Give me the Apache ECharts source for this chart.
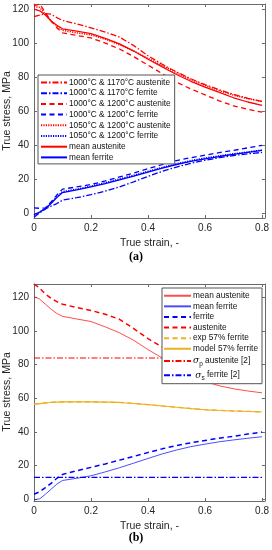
<!DOCTYPE html>
<html><head><meta charset="utf-8">
<script src="https://cdn.jsdelivr.net/npm/echarts@6/dist/echarts.min.js"></script>
<style>html,body{margin:0;padding:0;background:#fff;width:272px;height:550px;overflow:hidden}
#a{position:absolute;left:0;top:0;width:272px;height:270px}
#b{position:absolute;left:0;top:270px;width:272px;height:280px}</style>
</head><body>
<div id="a"></div><div id="b"></div>
<script>
// ---------- data ----------
const strain = [0,0.02,0.04,0.06,0.08,0.1,0.15,0.2,0.25,0.3,0.35,0.4,0.45,0.5,0.55,0.6,0.65,0.7,0.75,0.8];
const yTicks = [0,20,40,60,80,100,120];
const xTicks = [0,0.2,0.4,0.6,0.8];

// panel (a)
const a_aus_1000_1170 = [115.5,116.5,117.3,117,115,113.3,111.3,109,106.5,103.5,98.5,92.5,87.5,83,79,75.5,72.5,69.8,67.5,65.7];
const a_fer_1000_1170 = [-2.5,0,2.3,4,5.5,7.5,9,10.7,12.8,15.3,18.3,21.5,24.5,27,29.2,31,32.5,33.8,34.8,35.6];
const a_aus_1000_1200 = [122,123,118,113,109,106,104.5,103,100,96.5,92,87,82,77,73,69.5,66,63,61,59.3];
const a_fer_1000_1200 = [3,2.7,3,6.5,10.5,14,15.3,16.7,18.8,21.2,23.5,26,28.5,30.8,32.5,34,35.5,36.8,38.3,39.8];
const a_aus_1050_1200 = [121.5,121,117,113,110,107.5,106,104.8,102.3,99,95.3,91,86.8,82.5,78.5,75,72,69.3,67.3,65.5];
const a_fer_1050_1200 = [-1.5,0.5,2.5,6,9.5,12.5,14,15.8,17.8,20,22.2,24.5,26.8,29,30.8,32.3,33.6,34.8,35.9,37];
const a_mean_aus = [120,119,116.5,113,110.5,108.4,107,105.5,102.8,99.5,95.3,90.5,86,81.5,77.5,74,71,67.8,65.3,63.3];
const a_mean_fer = [-1,0.5,2.5,5.5,9,12,13.5,15.3,17.3,19.5,21.7,24,26.3,28.5,30.3,31.8,33.2,34.4,35.6,36.8];

// panel (b)
const b_mean_aus = [120.5,119,116,113,110.5,108.8,107.2,105.7,102.5,99,94.5,89,84,79,74.5,70,67.5,65.7,64.4,63.3];
const b_mean_fer = [-0.3,0.3,3,6,9,11.2,12.5,14,16.3,18.8,21.5,24.3,27,29.3,31.3,32.8,34.2,35.3,36.3,37.2];
const b_fer = [3,4.5,7,9.5,12.5,14.8,17,19,21,23.3,25.5,27.8,30,32,33.6,35,36.3,37.5,38.8,40];
const b_aus = [128,125.5,122,119.5,117.5,116,114,112.3,110,107,101.5,95.5,90.5,85,80.5,77,74.5,72.5,70.5,69];
const b_exp57 = [56.6,57,57.4,57.7,57.9,58,58,57.9,57.8,57.6,57,56.3,55.5,54.8,54,53.3,52.9,52.6,52.3,52];
const b_model57 = [56.4,56.9,57.3,57.6,57.8,57.9,58,57.9,57.8,57.6,57,56.3,55.5,54.7,53.9,53.2,52.8,52.5,52.2,51.9];
const sigmaP_aus = 84;
const sigmaS_fer = 13;
const sigmaRange = [0, 0.8];

const namesA = ['1000°C & 1170°C austenite','1000°C & 1170°C ferrite','1000°C & 1200°C austenite','1000°C & 1200°C ferrite','1050°C & 1200°C austenite','1050°C & 1200°C ferrite','mean austenite','mean ferrite'];
const namesB = ['mean austenite','mean ferrite','ferrite','austenite','exp 57% ferrite','model 57% ferrite','σp austenite [2]','σs ferrite [2]'];
const yTitle = 'True stress, MPa';
const xTitle = 'True strain, -';

// ---------- helpers ----------
const RED='#ff0000', BLUE='#0000ff', YEL='#EDB120';
const DASH=[5,3.5], DASHDOT=[6,2,1.5,2], DOT=[1.2,1.2];
const FONT='"Liberation Sans", Arial, sans-serif';
const LFS = 8.3;
const pairs = arr => strain.map((x,i)=>[x,arr[i]]);
function line(name, data, color, type, width, opacity){
  return {name, type:'line', data, symbol:'none', showSymbol:false, silent:true, animation:false,
    lineStyle:{color, type, width, opacity: opacity==null?1:opacity}, itemStyle:{color}};
}
function axes(yMin, yMax){
  const ax = {color:'#6a6a6a', width:1};
  return {
    xAxis:[
      {type:'value', min:0, max:0.81, position:'bottom', name:xTitle, nameLocation:'middle', nameGap:19,
       nameTextStyle:{fontSize:10.5, color:'#262626', fontFamily:FONT},
       axisLine:{show:true, onZero:false, lineStyle:ax},
       axisTick:{show:true, inside:true, length:3, lineStyle:ax, customValues:xTicks},
       axisLabel:{fontSize:10, color:'#262626', fontFamily:FONT, margin:5, customValues:xTicks},
       splitLine:{show:false}},
      {type:'value', min:0, max:0.81, position:'top',
       axisLine:{show:true, onZero:false, lineStyle:ax},
       axisTick:{show:true, inside:true, length:3, lineStyle:ax, customValues:xTicks},
       axisLabel:{show:false}, splitLine:{show:false}}
    ],
    yAxis:[
      {type:'value', min:yMin, max:yMax, position:'left',
       axisLine:{show:true, onZero:false, lineStyle:ax},
       axisTick:{show:true, inside:true, length:3, lineStyle:ax, customValues:yTicks},
       axisLabel:{fontSize:10, color:'#262626', fontFamily:FONT, margin:5, customValues:yTicks},
       splitLine:{show:false}},
      {type:'value', min:yMin, max:yMax, position:'right',
       axisLine:{show:true, onZero:false, lineStyle:ax},
       axisTick:{show:true, inside:true, length:3, lineStyle:ax, customValues:yTicks},
       axisLabel:{show:false}, splitLine:{show:false}}
    ]
  };
}
function yTitleGraphic(cy){
  return {type:'text', x:7, y:cy, rotation:Math.PI/2,
    style:{text:yTitle, align:'center', verticalAlign:'middle', font:'10.5px "Liberation Sans", Arial, sans-serif', fill:'#262626'}};
}
const legendCommon = {orient:'vertical', itemHeight:8, backgroundColor:'#fff', borderColor:'#555', borderWidth:1,
  selectedMode:false, itemStyle:{opacity:0, borderWidth:0}};

// ---------- panel (a) ----------
const chartA = echarts.init(document.getElementById('a'), null, {renderer:'canvas'});
const optA = Object.assign({
  animation:false,
  grid:{left:34, top:4, width:231, height:214},
  legend:Object.assign({}, legendCommon, {left:38, top:75, padding:[3,4,2,2], itemWidth:26, itemGap:1.7,
    textStyle:{fontSize:LFS, lineHeight:9, color:'#111', fontFamily:FONT, padding:[0,0,0,-3]}, data:namesA}),
  graphic:[yTitleGraphic(111),
    {type:'text', style:{x:136, y:257, text:'(a)', align:'center', verticalAlign:'middle',
    font:'bold 12px "Liberation Serif", serif', fill:'#000'}}],
  series:[
    line(namesA[0], pairs(a_aus_1000_1170), RED, DASHDOT, 1.3),
    line(namesA[1], pairs(a_fer_1000_1170), BLUE, DASHDOT, 1.3),
    line(namesA[2], pairs(a_aus_1000_1200), RED, DASH, 1.3),
    line(namesA[3], pairs(a_fer_1000_1200), BLUE, DASH, 1.3),
    line(namesA[4], pairs(a_aus_1050_1200), RED, DOT, 1.5),
    line(namesA[5], pairs(a_fer_1050_1200), BLUE, DOT, 1.5),
    line(namesA[6], pairs(a_mean_aus), RED, 'solid', 1.3),
    line(namesA[7], pairs(a_mean_fer), BLUE, 'solid', 1.3)
  ]
}, axes(-3, 123));
chartA.setOption(optA);

// ---------- panel (b) ----------
const chartB = echarts.init(document.getElementById('b'), null, {renderer:'canvas'});
const optB = Object.assign({
  animation:false,
  grid:{left:34, top:14, width:231, height:217},
  legend:Object.assign({}, legendCommon, {left:162, top:18, padding:[3,4,2,1], itemWidth:27, itemGap:1.1,
    formatter: function(n){
      if(n.indexOf('σp')===0) return '{s|σ}{sub|p}{t| austenite [2]}';
      if(n.indexOf('σs')===0) return '{t| }{s|σ}{sub|s}{t| ferrite [2]}';
      return n;
    },
    textStyle:{fontSize:LFS, lineHeight:9.5, color:'#111', fontFamily:FONT, padding:[0,0,0,-3],
      rich:{s:{fontSize:9, lineHeight:10, fontStyle:'italic', fontFamily:'"DejaVu Serif", serif', color:'#111'},
            sub:{fontSize:6.5, lineHeight:10, color:'#111', fontFamily:FONT, padding:[6,0,0,0]},
            t:{fontSize:LFS, lineHeight:10, color:'#111', fontFamily:FONT}}},
    data:namesB}),
  graphic:[yTitleGraphic(122),
    {type:'text', style:{x:136, y:268, text:'(b)', align:'center', verticalAlign:'middle',
    font:'bold 12px "Liberation Serif", serif', fill:'#000'}}],
  series:[
    line(namesB[0], pairs(b_mean_aus), RED, 'solid', 1, 0.7),
    line(namesB[1], pairs(b_mean_fer), BLUE, 'solid', 1, 0.7),
    line(namesB[2], pairs(b_fer), BLUE, DASH, 1.5),
    line(namesB[3], pairs(b_aus), RED, DASH, 1.5),
    line(namesB[4], pairs(b_exp57), YEL, DASH, 1.3),
    line(namesB[5], pairs(b_model57), YEL, 'solid', 1.1),
    line(namesB[6], sigmaRange.map(x=>[x, sigmaP_aus]), RED, DASHDOT, 1.2),
    line(namesB[7], sigmaRange.map(x=>[x, sigmaS_fer]), BLUE, DASHDOT, 1.2)
  ]
}, axes(-1, 128));
chartB.setOption(optB);
</script>
</body></html>
